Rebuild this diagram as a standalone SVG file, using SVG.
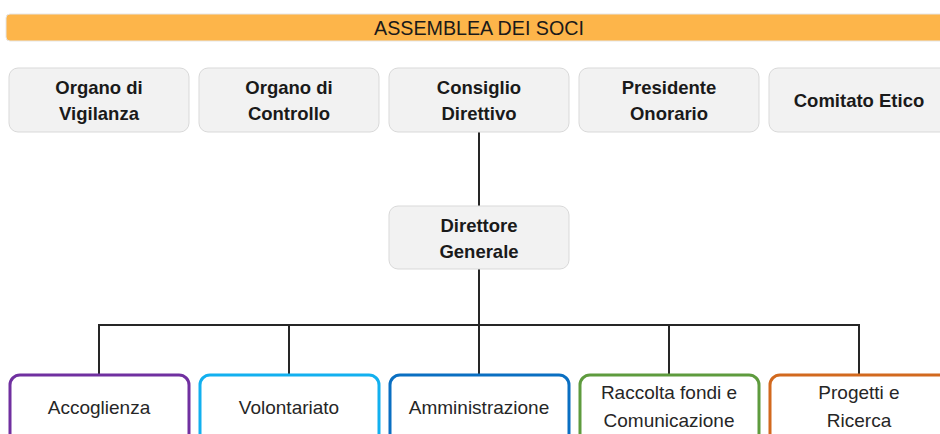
<svg xmlns="http://www.w3.org/2000/svg" width="940" height="434" viewBox="0 0 940 434">
<style>
.gray{fill:#f2f2f2;stroke:#d9d9d9;stroke-width:1}
.t{font-family:"Liberation Sans",Arial,sans-serif;font-size:18.5px;font-weight:bold;fill:#1a1a1a;text-anchor:middle}
.r{font-family:"Liberation Sans",Arial,sans-serif;font-size:19px;fill:#262626;text-anchor:middle}
.box{fill:#ffffff;stroke-width:3}
.conn{stroke:#262626;stroke-width:2;fill:none}
</style>
<rect width="940" height="434" fill="#ffffff"/>
<g id="assemblea">
<rect x="6" y="14" width="950" height="27" rx="4" fill="#fdb54a" stroke="#e6e6e6" stroke-width="1"/>
<text x="479" y="35" font-family="'Liberation Sans',Arial,sans-serif" font-size="20" fill="#1a1a1a" text-anchor="middle" textLength="210" lengthAdjust="spacingAndGlyphs">ASSEMBLEA DEI SOCI</text>
</g>
<g id="connectors">
<path class="conn" d="M479 132V206M479 269V325M99 374V325H859V374M289 325V374M479 325V374M669 325V374"/>
</g>
<g id="organo-vigilanza">
<rect class="gray" x="9" y="68" width="180" height="64" rx="9"/>
<text class="t" x="99" y="94">Organo di</text>
<text class="t" x="99" y="120">Vigilanza</text>
</g>
<g id="organo-controllo">
<rect class="gray" x="199" y="68" width="180" height="64" rx="9"/>
<text class="t" x="289" y="94">Organo di</text>
<text class="t" x="289" y="120">Controllo</text>
</g>
<g id="consiglio-direttivo">
<rect class="gray" x="389" y="68" width="180" height="64" rx="9"/>
<text class="t" x="479" y="94">Consiglio</text>
<text class="t" x="479" y="120">Direttivo</text>
</g>
<g id="presidente-onorario">
<rect class="gray" x="579" y="68" width="180" height="64" rx="9"/>
<text class="t" x="669" y="94">Presidente</text>
<text class="t" x="669" y="120">Onorario</text>
</g>
<g id="comitato-etico">
<rect class="gray" x="769" y="68" width="180" height="64" rx="9"/>
<text class="t" x="859" y="107">Comitato Etico</text>
</g>
<g id="direttore-generale">
<rect class="gray" x="389" y="206" width="180" height="63" rx="9"/>
<text class="t" x="479" y="232">Direttore</text>
<text class="t" x="479" y="258">Generale</text>
</g>
<g id="accoglienza">
<rect class="box" x="10" y="375" width="179" height="70" rx="10" stroke="#7030a0"/>
<text class="r" x="99" y="414">Accoglienza</text>
</g>
<g id="volontariato">
<rect class="box" x="200" y="375" width="179" height="70" rx="10" stroke="#12b0ef"/>
<text class="r" x="289" y="414">Volontariato</text>
</g>
<g id="amministrazione">
<rect class="box" x="390" y="375" width="179" height="70" rx="10" stroke="#0a6fc2"/>
<text class="r" x="479" y="414">Amministrazione</text>
</g>
<g id="raccolta-fondi">
<rect class="box" x="580" y="375" width="179" height="70" rx="10" stroke="#5e9b3e"/>
<text class="r" x="669" y="399">Raccolta fondi e</text>
<text class="r" x="669" y="427">Comunicazione</text>
</g>
<g id="progetti-ricerca">
<rect class="box" x="770" y="375" width="179" height="70" rx="10" stroke="#d2691e"/>
<text class="r" x="859" y="399">Progetti e</text>
<text class="r" x="859" y="427">Ricerca</text>
</g>
</svg>
